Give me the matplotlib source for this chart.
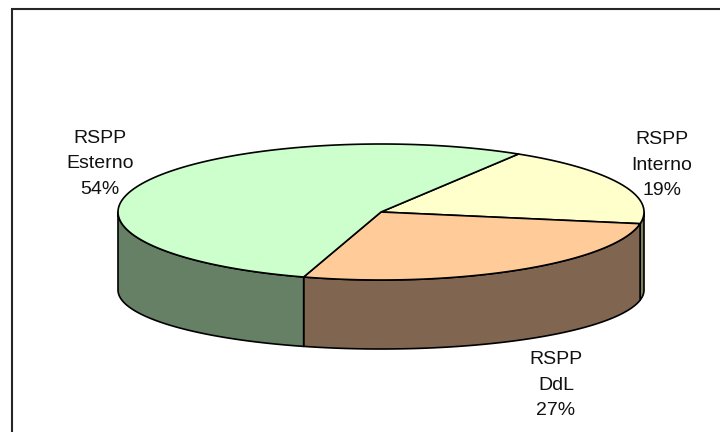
import numpy as np
import matplotlib
matplotlib.use("Agg")
import matplotlib.pyplot as plt
from matplotlib.patches import Polygon

categories = ["RSPP\nInterno", "RSPP\nDdL", "RSPP\nEsterno"]
values = [19, 27, 54]
top_colors = ["#FFFFCC", "#FFCC99", "#CCFFCC"]
side_colors = ["#80805F", "#806650", "#668066"]
label_xy = [(662, 165), (556, 385), (100, 164)]

W, H = 720, 432
CX, CY, RX, RY = 381, 212, 263, 68
BASE_Y, BASE_RY = 290, 59
START = 58.5

plt.rcParams["font.family"] = "Liberation Sans"
fig = plt.figure(figsize=(W / 100, H / 100), dpi=100, facecolor="white")
ax = fig.add_axes([0, 0, 1, 1])
ax.set_xlim(0, W)
ax.set_ylim(H, 0)
ax.axis("off")

ax.plot([11.8, 11.8, W], [H, 9.2, 9.2], color="#262626", lw=1.5,
        solid_joinstyle="miter", zorder=1)


def rim(a0, a1, n=120):
    t = np.radians(np.linspace(a0, a1, n))
    return np.column_stack([CX + RX * np.cos(t), CY - RY * np.sin(t)])


def base(a0, a1, n=120):
    t = np.radians(np.linspace(a0, a1, n))
    return np.column_stack([CX + RX * np.cos(t), BASE_Y - BASE_RY * np.sin(t)])


fractions = np.array(values) / sum(values)
edges = START - 360 * np.concatenate([[0], np.cumsum(fractions)])

for a0, a1, col in zip(edges[:-1], edges[1:], side_colors):
    lo, hi = max(a1, -180), min(a0, 0)
    if lo < hi:
        ax.add_patch(Polygon(np.vstack([rim(hi, lo), base(lo, hi)]), closed=True,
                             fc=col, ec="black", lw=1.2, joinstyle="round", zorder=2))

for a0, a1, col in zip(edges[:-1], edges[1:], top_colors):
    ax.add_patch(Polygon(np.vstack([[[CX, CY]], rim(a0, a1)]), closed=True,
                         fc=col, ec="black", lw=1.2, joinstyle="round", zorder=3))

for name, val, (x, y) in zip(categories, values, label_xy):
    ax.text(x, y, f"{name}\n{val}%", ha="center", va="center", fontsize=14,
            linespacing=1.65, color="#111111", zorder=4)

fig.savefig("out.png", dpi=100)
